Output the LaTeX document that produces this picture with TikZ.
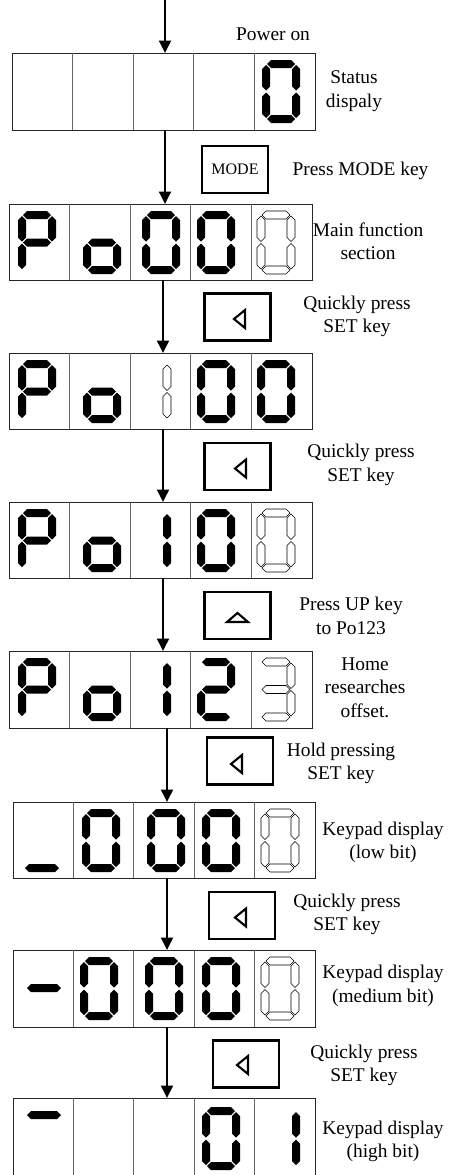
\documentclass[tikz,border=0pt]{standalone}
\usepackage{fontspec}
\setmainfont{Liberation Serif}
\usetikzlibrary{arrows.meta,calc}
% seven-segment pieces, local box 38 x 63, y downwards
\newcommand\dsega[1]{\path[#1] (5,4) -- (9,0) -- (29,0) -- (33,4) -- (29,8) -- (9,8) -- cycle;}
\newcommand\dsegg[1]{\path[#1] (5,31.5) -- (9,27.5) -- (29,27.5) -- (33,31.5) -- (29,35.5) -- (9,35.5) -- cycle;}
\newcommand\dsegd[1]{\path[#1] (5,59) -- (9,55) -- (29,55) -- (33,59) -- (29,63) -- (9,63) -- cycle;}
\newcommand\dsegf[1]{\path[#1] (4,5) -- (8,9) -- (8,26.5) -- (4,30.5) -- (0,26.5) -- (0,9) -- cycle;}
\newcommand\dsege[1]{\path[#1] (4,32.5) -- (8,36.5) -- (8,54) -- (4,58) -- (0,54) -- (0,36.5) -- cycle;}
\newcommand\dsegb[1]{\path[#1] (34,5) -- (38,9) -- (38,26.5) -- (34,30.5) -- (30,26.5) -- (30,9) -- cycle;}
\newcommand\dsegc[1]{\path[#1] (34,32.5) -- (38,36.5) -- (38,54) -- (34,58) -- (30,54) -- (30,36.5) -- cycle;}
\newcommand\litdigit[3]{\begin{scope}[shift={(#1,#2)}]\foreach \s in {#3}{\csname dseg\s\endcsname{segon}}\end{scope}}
\newcommand\dimdigit[3]{\begin{scope}[shift={(#1,#2)}]\foreach \s in {#3}{\csname dseg\s\endcsname{segoff}}\end{scope}}
\newcommand\dashseg[3]{\path[segon] (#1,#3) -- ({#1+4},{#3-4}) -- ({#2-4},{#3-4}) -- (#2,#3) -- ({#2-4},{#3+4}) -- ({#1+4},{#3+4}) -- cycle;}
\newcommand\dispunit[5]{%
  \node[dispbox, minimum width={#4-#2}, minimum height={#5-#3}] (#1) at ({(#2+#4)/2},{(#3+#5)/2}) {};
  \foreach \k in {1,2,3,4}{\draw[cellline] ($(#1.north west)!\k/5!(#1.north east)$) -- ($(#1.south west)!\k/5!(#1.south east)$);}}
\newcommand\setarrowicon[2]{\draw[keyicon] (#1,#2) -- ({#1+11},{#2-9}) -- ({#1+11},{#2+9}) -- cycle;}
\begin{document}
\begin{tikzpicture}[x=1pt,y=-1pt,
  segon/.style={fill=black},
  segoff/.style={draw=black, fill=white, line width=0.6pt},
  dispbox/.style={draw=black!85, line width=1pt, inner sep=0pt, outer sep=0pt},
  cellline/.style={draw=black!60, line width=1pt},
  keybox/.style={draw=black, line width=2.3pt, inner sep=0pt, minimum width=66pt, minimum height=47pt},
  keyicon/.style={draw=black, line width=2.1pt, line join=miter},
  flow/.style={draw=black, line width=1.9pt, -{Triangle[length=12.5pt,width=12pt]}},
  lbl/.style={font=\fontsize{19.4}{23.5}\selectfont, align=center, inner sep=0pt}]
\useasboundingbox (0,0) rectangle (449,1175);
% displays
\dispunit{d1}{12}{53}{315}{130}
\dispunit{d2}{9}{204}{312}{280}
\dispunit{d3}{9}{353}{312}{429}
\dispunit{d4}{9}{502}{312}{578}
\dispunit{d5}{9}{651}{312}{728}
\dispunit{d6}{13}{802}{315}{878}
\dispunit{d7}{13}{950}{315}{1027}
\dispunit{d8}{13}{1098}{315}{1180}
% display 1
\litdigit{262}{60}{a,b,c,d,e,f}
% display 2
\litdigit{18}{211}{a,b,f,g,e}
\litdigit{83}{211}{c,d,e,g}
\litdigit{142}{211}{a,b,c,d,e,f}
\litdigit{197}{211}{a,b,c,d,e,f}
\dimdigit{257}{211}{a,b,c,d,e,f}
% display 3
\litdigit{18}{360}{a,b,f,g,e}
\litdigit{83}{360}{c,d,e,g}
\dimdigit{133}{360}{b,c}
\litdigit{197}{360}{a,b,c,d,e,f}
\litdigit{257}{360}{a,b,c,d,e,f}
% display 4
\litdigit{18}{509}{a,b,f,g,e}
\litdigit{83}{509}{c,d,e,g}
\litdigit{133}{509}{b,c}
\litdigit{197}{509}{a,b,c,d,e,f}
\dimdigit{257}{509}{a,b,c,d,e,f}
% display 5
\litdigit{18}{658}{a,b,f,g,e}
\litdigit{83}{658}{c,d,e,g}
\litdigit{133}{658}{b,c}
\litdigit{197}{658}{a,b,g,e,d}
\dimdigit{257}{658}{a,b,g,c,d}
% display 6
\dashseg{25}{59}{868}
\litdigit{82}{809}{a,b,c,d,e,f}
\litdigit{147}{809}{a,b,c,d,e,f}
\litdigit{202}{809}{a,b,c,d,e,f}
\dimdigit{261}{809}{a,b,c,d,e,f}
% display 7
\dashseg{27}{61}{988}
\litdigit{80}{957}{a,b,c,d,e,f}
\litdigit{145}{957}{a,b,c,d,e,f}
\litdigit{202}{957}{a,b,c,d,e,f}
\dimdigit{261}{957}{a,b,c,d,e,f}
% display 8
\dashseg{27}{61}{1115}
\litdigit{202}{1107}{a,b,c,d,e,f}
\litdigit{262}{1107}{b,c}
% keys
\node[keybox, font=\fontsize{16}{18}\selectfont] (k1) at (235,169.5) {MODE};
\node[keybox] (k2) at (237.5,317) {};
\node[keybox] (k3) at (237.5,466.5) {};
\node[keybox] (k4) at (237.5,615.5) {};
\node[keybox] (k5) at (240,761) {};
\node[keybox] (k6) at (242,915.5) {};
\node[keybox] (k7) at (246,1064) {};
\setarrowicon{234}{319}
\setarrowicon{235}{468.5}
\draw[keyicon] (227,622) -- (248,622) -- (237.5,613) -- cycle;
\setarrowicon{231}{764}
\setarrowicon{235}{917.5}
\setarrowicon{237}{1065}
% arrows
\coordinate (start) at (165,0);
\draw[flow] (start) -- (start |- d1.north);
\draw[flow] ($(d1.south)+(1.5,0)$) -- ($(d2.north)+(4.5,0)$);
\draw[flow] ($(d2.south)+(2.5,0)$) -- ($(d3.north)+(2.5,0)$);
\draw[flow] ($(d3.south)+(2.5,0)$) -- ($(d4.north)+(2.5,0)$);
\draw[flow] ($(d4.south)+(2.5,0)$) -- ($(d5.north)+(2.5,0)$);
\draw[flow] ($(d5.south)+(6.5,0)$) -- ($(d6.north)+(3,0)$);
\draw[flow] ($(d6.south)+(3,0)$) -- ($(d7.north)+(3,0)$);
\draw[flow] ($(d7.south)+(3,0)$) -- ($(d8.north)+(3,0)$);
% labels
\node[lbl] (t1) at (273,34) {Power on};
\node[lbl] (t2) at (354,91) {Status\\dispaly};
\node[lbl] (t3) at (360.5,171) {Press MODE key};
\node[lbl] (t4) at (368,241.5) {Main function\\section};
\node[lbl] (t5) at (357,316.5) {Quickly press\\SET key};
\node[lbl] (t6) at (361,465) {Quickly press\\SET key};
\node[lbl] (t7) at (351,616) {Press UP key\\to Po123};
\node[lbl] (t8) at (365,687.5) {Home\\researches\\offset.};
\node[lbl] (t9) at (341,763.5) {Hold pressing\\SET key};
\node[lbl] (t10) at (383,842.5) {Keypad display\\(low bit)};
\node[lbl] (t11) at (347,914.5) {Quickly press\\SET key};
\node[lbl] (t12) at (383,986) {Keypad display\\(medium bit)};
\node[lbl] (t13) at (364,1065.5) {Quickly press\\SET key};
\node[lbl] (t14) at (383,1141.5) {Keypad display\\(high bit)};
\end{tikzpicture}
\end{document}
